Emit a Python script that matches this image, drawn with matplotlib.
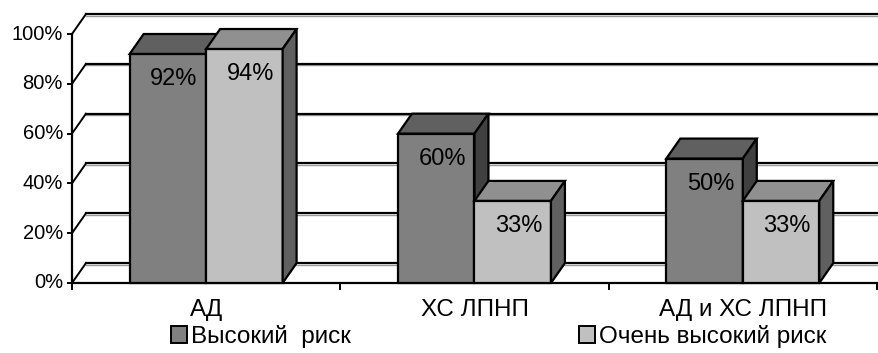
import matplotlib.pyplot as plt
from matplotlib.patches import Polygon, Patch

categories = ['АД', 'ХС ЛПНП', 'АД и ХС ЛПНП']
series_names = ['Высокий  риск', 'Очень высокий риск']
high_risk = [92, 60, 50]
very_high_risk = [94, 33, 33]
yticks = [0, 20, 40, 60, 80, 100]

plt.rcParams['font.family'] = ['Liberation Sans', 'DejaVu Sans']

fig = plt.figure(figsize=(8.79, 3.53), dpi=100)
ax = fig.add_axes([72 / 879, 70 / 353, 805 / 879, 249 / 353])
ax.set_xlim(0, 3)
ax.set_ylim(0, 100)
ax.axis('off')

# depth of the pseudo-3D box (x in category units, y in percent)
dx, dy = 0.052, 8.0
bw = 0.285
# front, top, side shades for each series
shades = [('#808080', '#606060', '#404040'),
          ('#c0c0c0', '#909090', '#606060')]

# back wall gridlines and the slanted left wall edges
for t in yticks:
    ax.plot([dx, 3.3], [t + dy - 0.6, t + dy - 0.6], color='#999999', lw=1.0, clip_on=False, zorder=1)
    ax.plot([dx, 3.3], [t + dy, t + dy], color='black', lw=1.6, clip_on=False, zorder=1)
    ax.plot([0, dx], [t, t + dy], color='black', lw=1.4, clip_on=False, zorder=1)
    ax.plot([-0.015, 0], [t, t], color='black', lw=1.4, clip_on=False)
    ax.text(-0.034, t, f'{t}%', ha='right', va='center', fontsize=14.5)

# front axis lines
ax.plot([0, 0], [0, 100], color='black', lw=1.6, clip_on=False, zorder=1)
ax.plot([0, 3], [0, 0], color='black', lw=1.6, clip_on=False, zorder=1)
for i in range(len(categories) + 1):
    ax.plot([i, i], [0, -2.4], color='black', lw=1.4, clip_on=False)
for i, c in enumerate(categories):
    ax.text(i + 0.5, -6.5, c, ha='center', va='top', fontsize=17.5)


def bar3d(x0, v, colors):
    x1 = x0 + bw
    front, top, side = colors
    kw = dict(ec='black', lw=1.6, joinstyle='miter', clip_on=False, zorder=3)
    ax.add_patch(Polygon([(x0, 0), (x1, 0), (x1, v), (x0, v)], fc=front, **kw))
    ax.add_patch(Polygon([(x0, v), (x1, v), (x1 + dx, v + dy), (x0 + dx, v + dy)], fc=top, **kw))
    ax.add_patch(Polygon([(x1, 0), (x1 + dx, dy), (x1 + dx, v + dy), (x1, v)], fc=side, **kw))
    ax.text(x1 - 0.032, v - 10.2, f'{v}%', ha='right', va='center', fontsize=17, zorder=4)


for i in range(len(categories)):
    c = i + 0.5
    bar3d(c - bw, high_risk[i], shades[0])
    bar3d(c, very_high_risk[i], shades[1])

handles = [Patch(fc=shades[0][0], ec='black', lw=1.4),
           Patch(fc=shades[1][0], ec='black', lw=1.4)]
fig.legend(handles, series_names, loc='center', bbox_to_anchor=(0.567, 0.046),
           ncol=2, frameon=False, fontsize=17.5, handlelength=0.67, handleheight=0.67,
           handletextpad=0.15, columnspacing=9.4, borderpad=0)

fig.savefig('out.png', dpi=100)
